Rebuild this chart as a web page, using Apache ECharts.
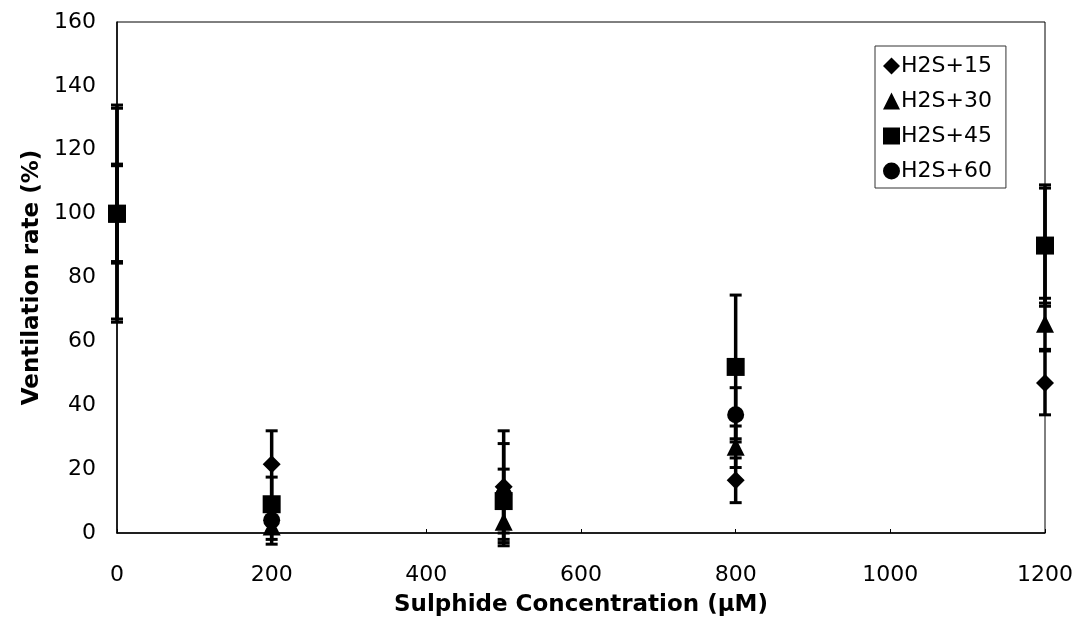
<!DOCTYPE html>
<html>
<head>
<meta charset="utf-8">
<script src="https://cdn.jsdelivr.net/npm/echarts@6/dist/echarts.min.js"></script>
<style>
  html, body { margin: 0; padding: 0; background: #fff; }
  #chart { width: 1074px; height: 620px; }
</style>
</head>
<body>
<div id="chart"></div>
<script>
// Sulphide concentration (µM) for each measurement group
const concentrations = [0, 200, 500, 800, 1200];

// Mean ventilation rate (%) per series
const seriesNames = ['H2S+15', 'H2S+30', 'H2S+45', 'H2S+60'];
const h2s15 = [100, 21.5, 14.5, 16.5, 47];
const h2s30 = [100, 2, 3.5, 27, 65.5];
const h2s45 = [100, 9, 10, 52, 90];
const h2s60 = [100, 4, 12, 37, 90];

// Error bar half-widths (%) per series
const h2s15Err = [34, 10.5, 17.5, 7, 10];
const h2s30Err = [33, 5.5, 5.5, 6.5, 8];
const h2s45Err = [15, 8.5, 10, 22.5, 19];
const h2s60Err = [15.5, 6, 16, 8.5, 18];

// Axis ticks
const xTicks = [0, 200, 400, 600, 800, 1000, 1200];
const yTicks = [0, 20, 40, 60, 80, 100, 120, 140, 160];

const means = [h2s15, h2s30, h2s45, h2s60];
const errs = [h2s15Err, h2s30Err, h2s45Err, h2s60Err];
const symbols = ['diamond', 'triangle', 'rect', 'circle'];
const symbolSizes = [18, 18, 18, 17];

const font = 'DejaVu Sans, sans-serif';

function errorBarSeries(values, errors) {
  const data = concentrations.map((c, i) => [c, values[i] - errors[i], values[i] + errors[i]]);
  return {
    type: 'custom',
    silent: true,
    clip: false,
    z: 1,
    data: data,
    encode: { x: 0, y: [1, 2] },
    renderItem: function (params, api) {
      const x = api.value(0);
      const lo = api.coord([x, api.value(1)]);
      const hi = api.coord([x, api.value(2)]);
      const capHalf = 6;
      const capStyle = { stroke: '#000', lineWidth: 3 };
      return {
        type: 'group',
        children: [
          { type: 'line', shape: { x1: lo[0], y1: lo[1], x2: hi[0], y2: hi[1] }, style: { stroke: '#000', lineWidth: 3.5 } },
          { type: 'line', shape: { x1: lo[0] - capHalf, y1: lo[1], x2: lo[0] + capHalf, y2: lo[1] }, style: capStyle },
          { type: 'line', shape: { x1: hi[0] - capHalf, y1: hi[1], x2: hi[0] + capHalf, y2: hi[1] }, style: capStyle }
        ]
      };
    }
  };
}

const series = [];
means.forEach((vals, k) => {
  series.push(errorBarSeries(vals, errs[k]));
});
means.forEach((vals, k) => {
  series.push({
    name: seriesNames[k],
    type: 'scatter',
    symbol: symbols[k],
    symbolSize: symbolSizes[k],
    itemStyle: { color: '#000', opacity: 1 },
    z: 3,
    data: concentrations.map((c, i) => [c, vals[i]])
  });
});

const chart = echarts.init(document.getElementById('chart'), null, { renderer: 'canvas' });
chart.setOption({
  animation: false,
  backgroundColor: '#fff',
  grid: {
    left: 117, right: 29, top: 22, bottom: 87,
    outerBoundsMode: 'none', containLabel: false,
    show: true, borderColor: '#000', borderWidth: 1
  },
  legend: {
    data: seriesNames,
    orient: 'vertical',
    left: 875,
    top: 46,
    itemWidth: 17,
    itemHeight: 17,
    itemGap: 13,
    padding: [9, 14, 6, 8],
    borderColor: '#333',
    borderWidth: 1,
    backgroundColor: '#fff',
    textStyle: { fontFamily: font, fontSize: 22, color: '#000', padding: [0, 0, 0, -4] }
  },
  xAxis: {
    type: 'value',
    min: xTicks[0],
    max: xTicks[xTicks.length - 1],
    interval: xTicks[1] - xTicks[0],
    name: 'Sulphide Concentration (µM)',
    nameLocation: 'middle',
    nameGap: 61,
    nameTextStyle: { fontFamily: font, fontSize: 23, fontWeight: 'bold', color: '#000' },
    axisLine: { lineStyle: { color: '#000', width: 1.5 } },
    axisTick: { inside: true, length: 4, lineStyle: { color: '#000' } },
    axisLabel: { fontFamily: font, fontSize: 22, color: '#000', margin: 31, formatter: v => String(v) },
    splitLine: { show: false }
  },
  yAxis: {
    type: 'value',
    min: yTicks[0],
    max: yTicks[yTicks.length - 1],
    interval: yTicks[1] - yTicks[0],
    name: 'Ventilation rate (%)',
    nameLocation: 'middle',
    nameGap: 66,
    nameTextStyle: { fontFamily: font, fontSize: 23, fontWeight: 'bold', color: '#000' },
    axisLine: { show: true, lineStyle: { color: '#000', width: 1.5 } },
    axisTick: { show: false },
    axisLabel: { fontFamily: font, fontSize: 22, color: '#000', margin: 21, formatter: v => String(v) },
    splitLine: { show: false }
  },
  series: series
});
</script>
</body>
</html>
